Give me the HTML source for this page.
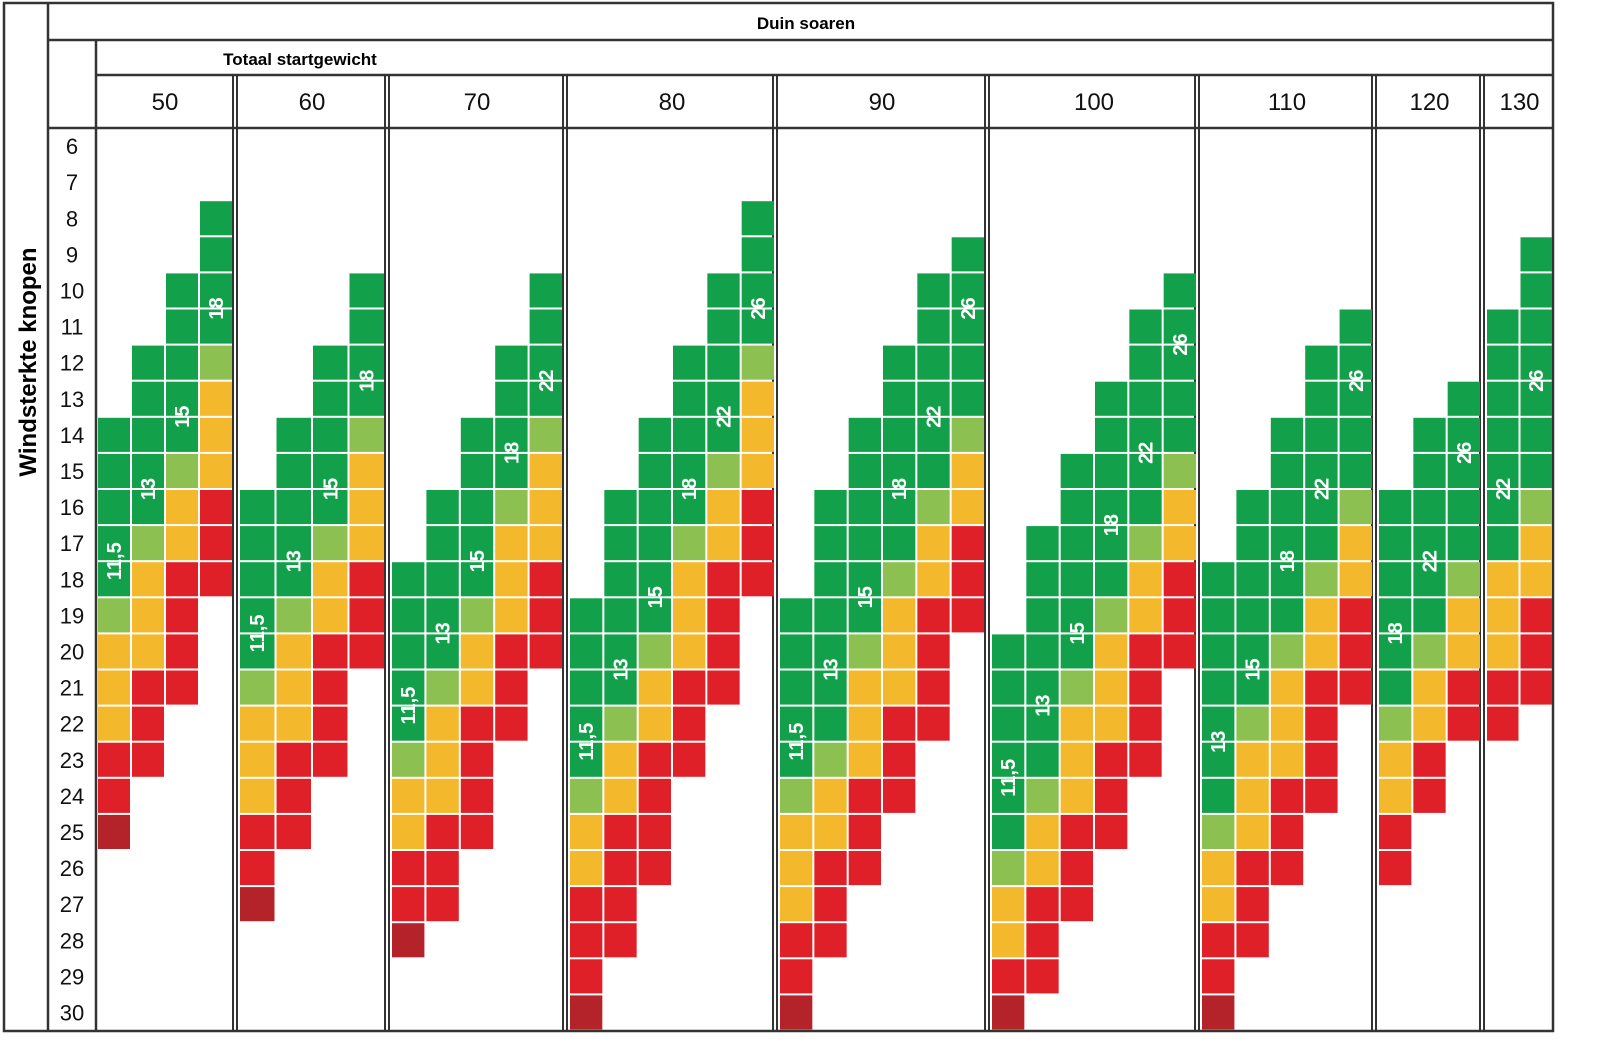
<!DOCTYPE html>
<html><head><meta charset="utf-8"><style>
html,body{margin:0;padding:0;background:#fff;width:1600px;height:1059px;overflow:hidden}
svg{display:block}
</style></head><body>
<svg id="chart" width="1600" height="1059" viewBox="0 0 1600 1059" xmlns="http://www.w3.org/2000/svg" font-family="Liberation Sans, sans-serif">
<g id="frame" stroke="#333" stroke-width="2.5" fill="none">
<rect x="4" y="3" width="1549" height="1028"/>
<line x1="48" y1="3" x2="48" y2="1031"/>
<line x1="48" y1="40" x2="1553" y2="40"/>
<line x1="96" y1="40" x2="96" y2="1031"/>
<line x1="96" y1="75" x2="1553" y2="75"/>
<line x1="48" y1="128" x2="1553" y2="128"/>
</g>
<text x="806" y="29" text-anchor="middle" font-weight="bold" font-size="17" fill="#000">Duin soaren</text>
<text x="300" y="65" text-anchor="middle" font-weight="bold" font-size="17" fill="#000">Totaal startgewicht</text>
<text transform="translate(36,362) rotate(-90)" text-anchor="middle" font-weight="bold" font-size="24" fill="#000">Windsterkte knopen</text>
<g id="rows"></g>
<g id="groups"></g>
<g id="cells"></g>
</svg>
<script>
// data
var windRows = [6,7,8,9,10,11,12,13,14,15,16,17,18,19,20,21,22,23,24,25,26,27,28,29,30];
var weights = [50,60,70,80,90,100,110,120,130];
var kiteSizes = [
 ["11,5","13","15","18"],
 ["11,5","13","15","18"],
 ["11,5","13","15","18","22"],
 ["11,5","13","15","18","22","26"],
 ["11,5","13","15","18","22","26"],
 ["11,5","13","15","18","22","26"],
 ["13","15","18","22","26"],
 ["18","22","26"],
 ["22","26"]
];
var startRows = [
 [14,12,10,8],
 [16,14,12,10],
 [18,16,14,12,10],
 [19,16,14,12,10,8],
 [19,16,14,12,10,9],
 [20,17,15,13,11,10],
 [18,16,14,12,11],
 [16,14,13],
 [11,9]
];
var colorSeqs = [
 ["GGGGGLYYYRRD","GGGGGLYYYRRR","GGGGGLYYRRRR","GGGGLYYYRRR"],
 ["GGGGGLYYYRRD","GGGGGLYYYRRR","GGGGGLYYRRRR","GGGGLYYYRRR"],
 ["GGGGGLYYRRD","GGGGGLYYYRRR","GGGGGLYYRRRR","GGGGLYYYRRR","GGGGLYYYRRR"],
 ["GGGGGLYYRRRD","GGGGGGLYYRRRR","GGGGGGLYYRRRR","GGGGGLYYYRRR","GGGGGLYYRRRR","GGGGLYYYRRR"],
 ["GGGGGLYYYRRD","GGGGGGGLYYRRR","GGGGGGLYYYRRR","GGGGGGLYYYRRR","GGGGGGLYYRRRR","GGGGGLYYRRR"],
 ["GGGGGGLYYRD","GGGGGGGLYYRRR","GGGGGGLYYYRRR","GGGGGGLYYYRRR","GGGGGGLYYRRRR","GGGGGLYYRRR"],
 ["GGGGGGGLYYRRD","GGGGGGLYYYRRR","GGGGGGLYYYRRR","GGGGGGLYYRRRR","GGGGGLYYRRR"],
 ["GGGGGGLYYRR","GGGGGGLYYRR","GGGGGLYYRR"],
 ["GGGGGGGYYYRR","GGGGGGGLYYRRR"]
];
var labelRows = [
 [18,16,14,11],
 [20,18,16,13],
 [22,20,18,15,13],
 [23,21,19,16,14,11],
 [23,21,19,16,14,11],
 [24,22,20,17,15,12],
 [23,21,18,16,13],
 [20,18,15],
 [16,13]
];
// layout
var groupBounds = [[97,233],[239,385],[391,563],[569,775],[779,985],[991,1197],[1201,1373],[1378,1481],[1486,1553]];
var colors = {G:"#13a04b",L:"#8cc152",Y:"#f4b82c",R:"#df2029",D:"#b5232a"};
var NS = "http://www.w3.org/2000/svg";
var rowTop = 128, rowH = 36.1;
function yOf(r){ return rowTop + (r - windRows[0]) * rowH; }
function mk(tag, attrs, parent){ var e = document.createElementNS(NS, tag); for (var k in attrs) e.setAttribute(k, attrs[k]); parent.appendChild(e); return e; }
var gRows = document.getElementById('rows');
windRows.forEach(function(r){
  var t = mk('text', {x:72, y:yOf(r)+rowH/2+8, 'text-anchor':'middle', 'font-size':22, fill:'#111'}, gRows);
  
  
  t.textContent = r;
});
var gGroups = document.getElementById('groups');
var gCells = document.getElementById('cells');
weights.forEach(function(w, gi){
  var b = groupBounds[gi];
  var h = mk('text', {x:(b[0]+b[1])/2, y:110, 'text-anchor':'middle', 'font-size':24, fill:'#111'}, gGroups);
  
  
  h.textContent = w;
  if (gi > 0) {
    var xl = b[0] - 2;
    var l1 = mk('line', {x1:xl-4, y1:75, x2:xl-4, y2:1031, stroke:'#333', 'stroke-width':2}, gGroups);
    
    
    var l2 = mk('line', {x1:xl, y1:75, x2:xl, y2:1031, stroke:'#333', 'stroke-width':2}, gGroups);
    
    
  }
  var sizes = kiteSizes[gi];
  var cw = (b[1] - b[0]) / sizes.length;
  sizes.forEach(function(s, ci){
    var cx = b[0] + ci * cw;
    var seq = colorSeqs[gi][ci];
    var col = mk('g', {}, gCells);
    
    
    for (var k = 0; k < seq.length; k++) {
      var r = startRows[gi][ci] + k;
      var rect = mk('rect', {x:cx+1, y:yOf(r)+1, width:cw-2, height:rowH-2, fill:colors[seq[k]]}, col);
      
      
    }
    var ly = yOf(labelRows[gi][ci]);
    var lx = cx + cw/2 + 7;
    var lab = mk('text', {x:lx, y:ly, transform:'rotate(-90 '+lx+' '+ly+')', 'text-anchor':'middle', 'font-size':20, 'font-weight':'bold', fill:'#fff'}, col);
    
    
    lab.textContent = s;
  });
});
</script>
</body></html>
